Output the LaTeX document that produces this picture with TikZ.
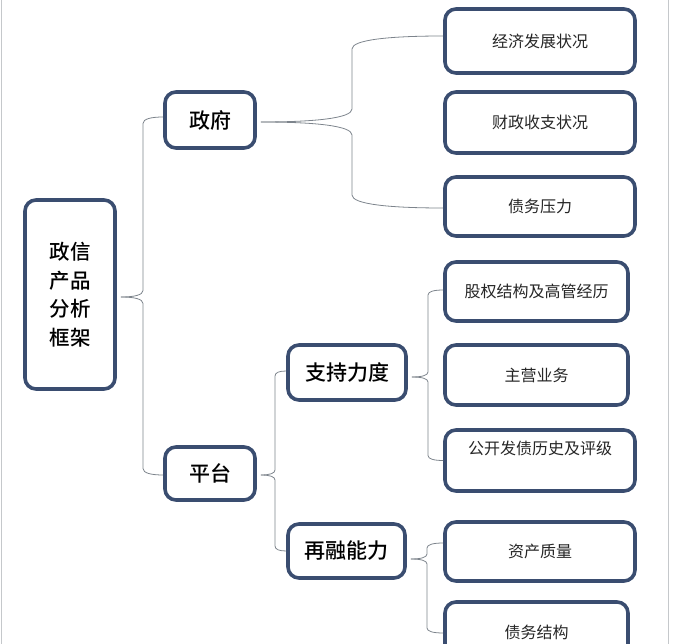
\documentclass[tikz,border=0pt]{standalone}
\usepackage{fontspec}
\usepackage{tikz}
\usetikzlibrary{calc}
\usetikzlibrary{positioning}
\newfontfamily\cjk{Noto Sans CJK SC}
\newfontfamily\cjkmed{Noto Sans CJK SC}[UprightFont={* Medium}]
\definecolor{boxblue}{RGB}{58,77,112}
\definecolor{linkgray}{RGB}{125,132,140}

\begin{document}
\begin{tikzpicture}[x=1pt,y=-1pt,
    frame/.style={draw=boxblue,line width=3.6pt,rounded corners=11pt,fill=white,inner sep=0pt},
    head/.style={frame,font=\cjkmed\fontsize{21}{28}\selectfont},
    leaf/.style={frame,font=\cjk\fontsize{16}{20}\selectfont,text=black!85},
    link/.style={draw=linkgray,line width=0.8pt}]
    \useasboundingbox (0,0) rectangle (675,644);
    \draw[linkgray!45,line width=1pt] (1,0) -- (1,644) (668,0) -- (668,644);

    \node[frame,font=\cjkmed\fontsize{20.5}{28.5}\selectfont,align=center,minimum width=90pt,minimum height=189pt] (root) at (70,294.5) {政信\\产品\\分析\\框架};
    \node[head,minimum width=90pt,minimum height=56pt] (zf) at (210,120) {政府};
    \node[head,minimum width=90pt,minimum height=53pt] (pt) at (210,473.5) {平台};
    \node[head,minimum width=118pt,minimum height=55pt] (zc) at (347,372.5) {支持力度};
    \node[head,minimum width=117pt,minimum height=54pt] (rz) at (346.5,551) {再融能力};

    \node[leaf,minimum width=190pt,minimum height=64pt] (g1) at (540,41) {经济发展状况};
    \node[leaf,minimum width=190pt,minimum height=61pt] (g2) at (540,122.5) {财政收支状况};
    \node[leaf,minimum width=190pt,minimum height=59pt] (g3) at (540,206.5) {债务压力};
    \node[leaf,minimum width=183pt,minimum height=59pt] (s1) at (536.5,291.5) {股权结构及高管经历};
    \node[leaf,minimum width=183pt,minimum height=60pt] (s2) at (536.5,375) {主营业务};
    \node[leaf,minimum width=190pt,minimum height=61pt,label={[font=\cjk\fontsize{16}{20}\selectfont,text=black!85,yshift=12.5pt]center:公开发债历史及评级}] (s3) at (540,460.5) {};
    \node[leaf,minimum width=190pt,minimum height=59pt] (r1) at (540,551.5) {资产质量};
    \node[leaf,minimum width=183pt,minimum height=60pt] (r2) at (536.5,632) {债务结构};

    \foreach \src/\sy/\stem/\dst/\dy/\a in {root/-2.5/143/zf/3/6.5, root/-2.5/143/pt/-1.5/6.5,
        zf/-2/352/g1/5/13, zf/-2/352/g3/-1.5/13,
        pt/-1.5/275/zc/1.5/5, pt/-1.5/275/rz/0/5,
        zc/-4.5/428/s1/1.5/5, zc/-4.5/428/s3/0/5,
        rz/-8/427/r1/8.5/5, rz/-8/427/r2/-1/5}
        \draw[link] let \p1=([xshift=4pt,yshift=\sy pt]\src.east), \p2=([yshift=\dy pt]\dst.west), \n1={sign(\y2-\y1)} in
            (\p1) .. controls ({\x1+0.6*(\stem*1pt-\x1)},{\y1}) and ({\stem*1pt},{\y1+0.3*\n1*\a*1pt}) .. ({\stem*1pt},{\y1+\n1*\a*1pt})
            -- ({\stem*1pt},{\y2-\n1*\a*1pt}) .. controls ({\stem*1pt},{\y2-0.3*\n1*\a*1pt}) and ({\stem*1pt+0.4*(\x2-\stem*1pt)},{\y2}) .. (\p2);
\end{tikzpicture}
\end{document}
